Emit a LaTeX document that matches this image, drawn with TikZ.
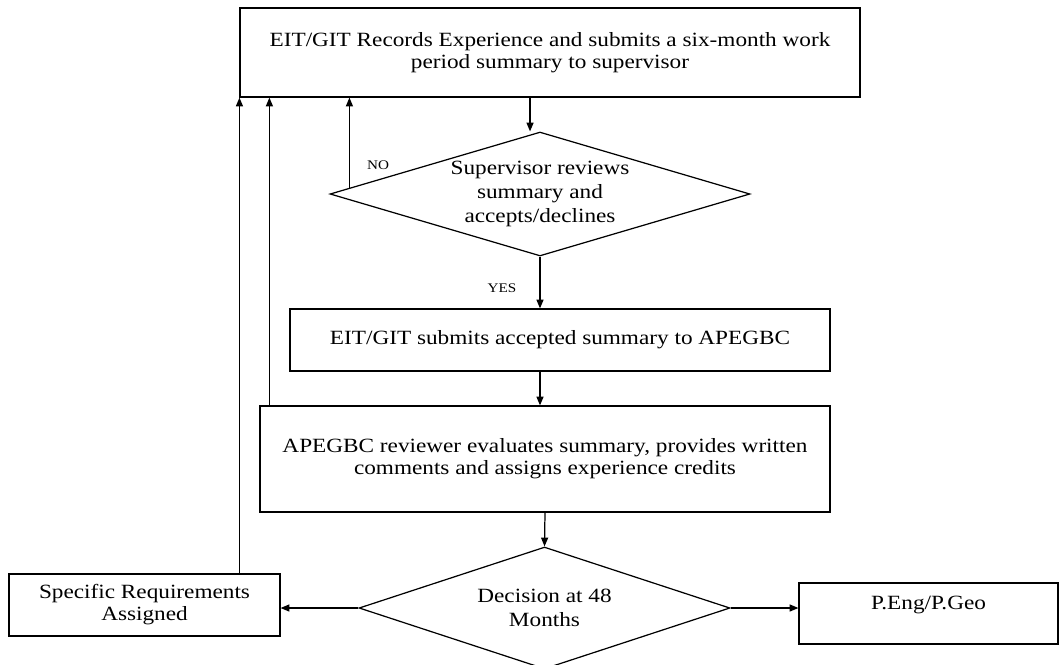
\documentclass[tikz,border=0pt]{standalone}
\usepackage{fontspec}
\setmainfont[FakeStretch=1.15]{Liberation Serif}
\usetikzlibrary{shapes.geometric,arrows.meta,calc}

\begin{document}
\begin{tikzpicture}[x=0.02cm,y=-0.02cm,line width=0.7pt,
    box/.style={draw, rectangle, align=center, inner sep=0pt, font=\fontsize{11.5}{12.5}\selectfont},
    decision/.style={draw, diamond, align=center, inner sep=-2pt, font=\fontsize{11.5}{13.8}\selectfont},
    arr/.style={-{Triangle[length=5pt,width=4pt]}},
    tag/.style={inner sep=0pt, font=\fontsize{7.5}{8}\selectfont}]
    \useasboundingbox (0,0) rectangle (1059,664);
    % boxes
    \node[box, minimum width=12.4cm, minimum height=1.78cm] (rec) at (550,52.5)
        {EIT/GIT Records Experience and submits a six-month work\\period summary to supervisor};
    \node[decision, aspect=3.4, minimum width=8.4cm, minimum height=2.48cm] (rev) at (540,194)
        {Supervisor reviews\\summary and\\accepts/declines};
    \node[box, minimum width=10.8cm, minimum height=1.24cm] (sub) at (560,340)
        {EIT/GIT submits accepted summary to APEGBC};
    \node[box, minimum width=11.4cm, minimum height=2.12cm] (eval) at (545,459)
        {APEGBC reviewer evaluates summary, provides written\\comments and assigns experience credits};
    \node[decision, aspect=3.0, minimum width=7.42cm, minimum height=2.44cm] (dec) at (544.5,608)
        {Decision at 48\\Months};
    \node[box, minimum width=5.42cm, minimum height=1.24cm] (spec) at (144.5,605)
        {Specific Requirements\\Assigned};
    \node[box, minimum width=5.18cm, minimum height=1.22cm] (peng) at (928.5,613.5)
        {P.Eng/P.Geo\\~};
    \node[tag] (no) at (378,165) {NO};
    \node[tag] (yes) at (502,288) {YES};
    % arrows
    \draw[arr] ([xshift=-5.67pt]rev.north |- rec.south) -- ([xshift=-5.67pt]rev.north);
    \draw[arr] (rev.south) -- (rev.south |- sub.north);
    \draw[arr] (rev.south |- sub.south) -- (rev.south |- eval.north);
    \draw[arr] (eval.south) -- (dec.north);
    \draw[arr] (dec.west) -- (dec.west -| spec.east);
    \draw[arr] (dec.east) -- (dec.east -| peng.west);
    % loops back
    \coordinate (noout) at ($(rev.west)!0.095!(rev.north)$);
    \draw[arr] (noout) -- (noout |- rec.south);
    \draw[arr] ([xshift=5.67pt]eval.north west) -- ([xshift=5.67pt]eval.north west |- rec.south);
    \draw[arr] (rec.south west |- spec.north) -- (rec.south west);
\end{tikzpicture}
\end{document}
